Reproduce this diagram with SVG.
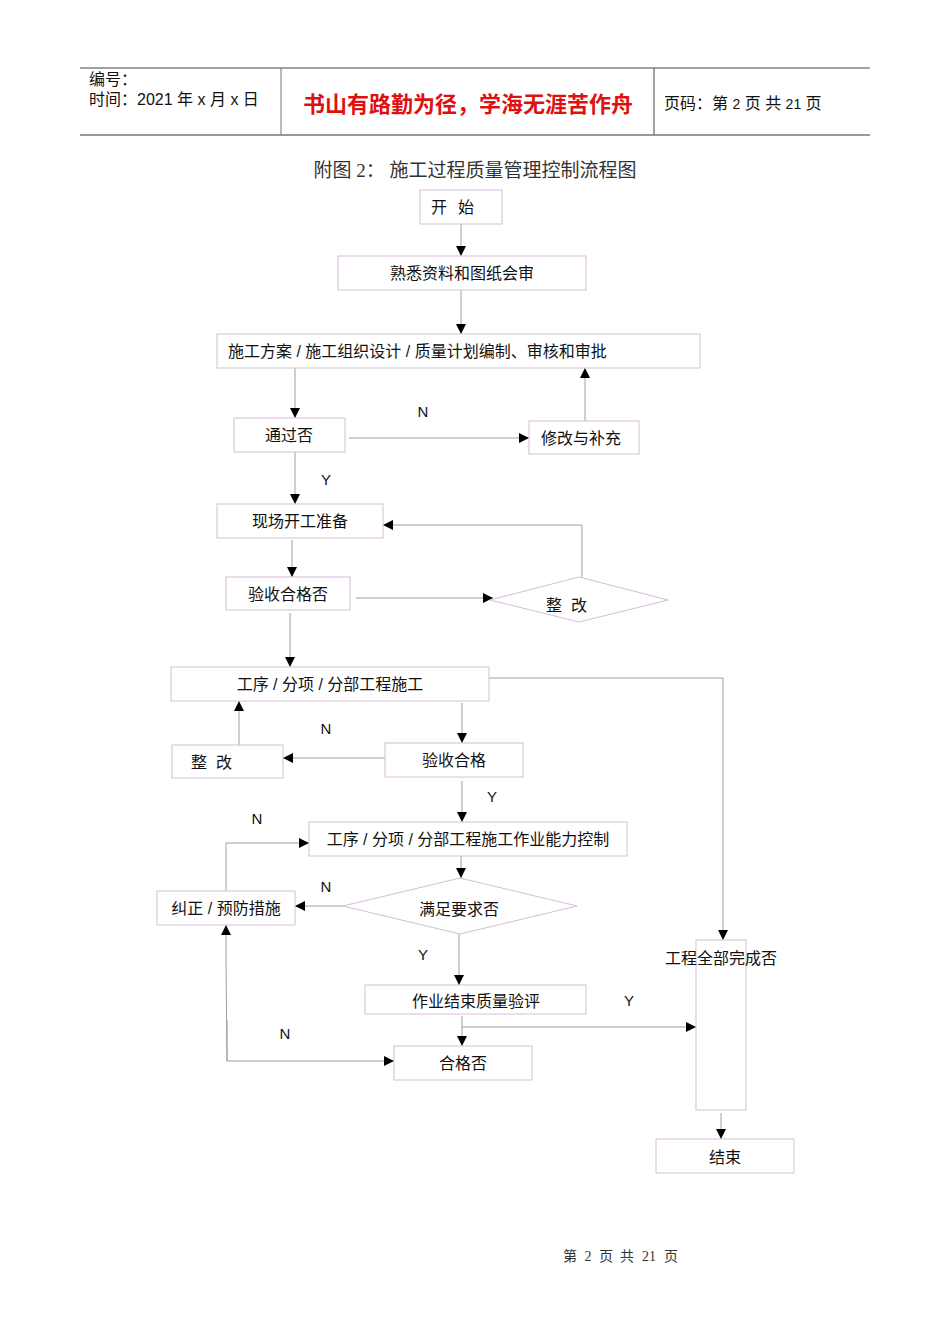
<svg xmlns="http://www.w3.org/2000/svg" width="950" height="1344" viewBox="0 0 950 1344">
<style>
.box{fill:#fff;stroke:#d8bcd8;stroke-width:1}
.t{font-family:"Liberation Sans","Noto Sans CJK SC",sans-serif;font-size:16px;fill:#111;text-anchor:middle;dominant-baseline:central}
.lbl{font-family:"Liberation Sans","Noto Sans CJK SC",sans-serif;font-size:15px;fill:#111;text-anchor:middle;dominant-baseline:central}
.ln{fill:none;stroke:#a0a0a0;stroke-width:1}
.hd{font-family:"Liberation Sans","Noto Sans CJK SC",sans-serif;font-size:16px;fill:#111}
.ft{font-family:"Liberation Serif","Noto Sans CJK SC",serif;font-size:14px;fill:#333;text-anchor:middle}
</style>
<defs>
<marker id="ah" viewBox="0 0 10 10" refX="10" refY="5" markerWidth="10" markerHeight="10" markerUnits="userSpaceOnUse" orient="auto">
<path d="M0,0 L10,5 L0,10 z" fill="#000"/>
</marker>
</defs>
<rect width="950" height="1344" fill="#fff"/>
<g id="header">
<line x1="80" y1="68" x2="870" y2="68" stroke="#444" stroke-width="1"/>
<line x1="80" y1="135" x2="870" y2="135" stroke="#777" stroke-width="1.5"/>
<line x1="281" y1="68" x2="281" y2="135" stroke="#777"/>
<line x1="654" y1="68" x2="654" y2="135" stroke="#444"/>
<text class="hd" x="89" y="85">编号：</text>
<text class="hd" x="89" y="105">时间：2021 年 x 月 x 日</text>
<text x="468" y="112" font-family="'Noto Sans CJK SC',sans-serif" font-size="22" font-weight="bold" fill="#e01010" text-anchor="middle">书山有路勤为径，学海无涯苦作舟</text>
<text class="hd" x="664" y="109">页码：第 <tspan font-size="14">2</tspan> 页  共 <tspan font-size="14">21</tspan> 页</text>
</g>
<text x="475" y="177" font-family="'Liberation Serif','Noto Sans CJK SC',serif" font-size="19" fill="#333" text-anchor="middle">附图 2：   施工过程质量管理控制流程图</text>
<g id="connectors">
<line class="ln" x1="461" y1="224" x2="461" y2="256" marker-end="url(#ah)"/>
<line class="ln" x1="461" y1="290" x2="461" y2="334" marker-end="url(#ah)"/>
<line class="ln" x1="295" y1="368" x2="295" y2="418" marker-end="url(#ah)"/>
<line class="ln" x1="349" y1="438" x2="529" y2="438" marker-end="url(#ah)"/>
<line class="ln" x1="585" y1="421" x2="585" y2="368" marker-end="url(#ah)"/>
<line class="ln" x1="295" y1="452" x2="295" y2="504" marker-end="url(#ah)"/>
<line class="ln" x1="292" y1="540" x2="292" y2="577" marker-end="url(#ah)"/>
<line class="ln" x1="356" y1="598" x2="493" y2="598" marker-end="url(#ah)"/>
<polyline class="ln" points="582,577 582,525 383,525" marker-end="url(#ah)"/>
<line class="ln" x1="290" y1="613" x2="290" y2="667" marker-end="url(#ah)"/>
<line class="ln" x1="462" y1="703" x2="462" y2="743" marker-end="url(#ah)"/>
<line class="ln" x1="385" y1="758" x2="283" y2="758" marker-end="url(#ah)"/>
<line class="ln" x1="239" y1="745" x2="239" y2="701" marker-end="url(#ah)"/>
<line class="ln" x1="462" y1="781" x2="462" y2="822" marker-end="url(#ah)"/>
<polyline class="ln" points="489,678 723,678 723,940" marker-end="url(#ah)"/>
<line class="ln" x1="461" y1="856" x2="461" y2="878" marker-end="url(#ah)"/>
<line class="ln" x1="343" y1="906" x2="295" y2="906" marker-end="url(#ah)"/>
<polyline class="ln" points="226,891 226,843 309,843" marker-end="url(#ah)"/>
<line class="ln" x1="459" y1="934" x2="459" y2="985" marker-end="url(#ah)"/>
<line class="ln" x1="462" y1="1016" x2="462" y2="1046" marker-end="url(#ah)"/>
<line class="ln" x1="462" y1="1027" x2="696" y2="1027" marker-end="url(#ah)"/>
<polyline class="ln" points="227,1061 226,960 226,925" marker-end="url(#ah)"/>
<polyline class="ln" points="227,1020 227,1061 394,1061" marker-end="url(#ah)"/>
<line class="ln" x1="721" y1="1113" x2="721" y2="1139" marker-end="url(#ah)"/>
<text class="lbl" x="423" y="411">N</text>
<text class="lbl" x="326" y="479">Y</text>
<text class="lbl" x="326" y="728">N</text>
<text class="lbl" x="492" y="796">Y</text>
<text class="lbl" x="257" y="818">N</text>
<text class="lbl" x="326" y="886">N</text>
<text class="lbl" x="423" y="954">Y</text>
<text class="lbl" x="629" y="1000">Y</text>
<text class="lbl" x="285" y="1033">N</text>
</g>
<g id="n-start"><rect class="box" x="420" y="190" width="82" height="34"/><text class="t" x="439" y="207">开</text><text class="t" x="466" y="207">始</text></g>
<g id="n-review"><rect class="box" x="338" y="256" width="248" height="34"/><text class="t" x="462" y="273">熟悉资料和图纸会审</text></g>
<g id="n-plan"><rect class="box" x="217" y="334" width="483" height="34"/><text class="t" x="228" y="351" style="text-anchor:start">施工方案 / 施工组织设计 / 质量计划编制、审核和审批</text></g>
<g id="n-pass"><rect class="box" x="234" y="418" width="111" height="34"/><text class="t" x="289" y="435">通过否</text></g>
<g id="n-modify"><rect class="box" x="529" y="421" width="110" height="33"/><text class="t" x="581" y="438">修改与补充</text></g>
<g id="n-prep"><rect class="box" x="217" y="504" width="166" height="34"/><text class="t" x="300" y="521">现场开工准备</text></g>
<g id="n-accept1"><rect class="box" x="226" y="577" width="124" height="33"/><text class="t" x="288" y="594">验收合格否</text></g>
<g id="n-fix1"><polygon class="box" points="490,600 579,577 668,600 579,622"/><text class="t" x="554" y="605">整</text><text class="t" x="579" y="605">改</text></g>
<g id="n-work"><rect class="box" x="171" y="667" width="318" height="34"/><text class="t" x="330" y="684">工序 / 分项 / 分部工程施工</text></g>
<g id="n-fix2"><rect class="box" x="172" y="745" width="111" height="33"/><text class="t" x="199" y="762">整</text><text class="t" x="224" y="762">改</text></g>
<g id="n-accept2"><rect class="box" x="385" y="743" width="138" height="34"/><text class="t" x="454" y="760">验收合格</text></g>
<g id="n-capability"><rect class="box" x="309" y="822" width="318" height="34"/><text class="t" x="468" y="839">工序 / 分项 / 分部工程施工作业能力控制</text></g>
<g id="n-correct"><rect class="box" x="157" y="891" width="138" height="34"/><text class="t" x="226" y="908">纠正 / 预防措施</text></g>
<g id="n-meet"><polygon class="box" points="343,906 460,878 577,906 460,934"/><text class="t" x="459" y="909">满足要求否</text></g>
<g id="n-eval"><rect class="box" x="365" y="985" width="221" height="29"/><text class="t" x="476" y="1001">作业结束质量验评</text></g>
<g id="n-qualified"><rect class="box" x="394" y="1046" width="138" height="34"/><text class="t" x="463" y="1063">合格否</text></g>
<g id="n-complete"><rect class="box" x="696" y="940" width="50" height="170" fill="none"/><text class="t" x="721" y="958">工程全部完成否</text></g>
<g id="n-end"><rect class="box" x="656" y="1139" width="138" height="34"/><text class="t" x="725" y="1157">结束</text></g>
<g id="footer">
<text class="ft" x="570" y="1261">第</text>
<text class="ft" x="588" y="1261">2</text>
<text class="ft" x="606" y="1261">页</text>
<text class="ft" x="627" y="1261">共</text>
<text class="ft" x="649" y="1261">21</text>
<text class="ft" x="671" y="1261">页</text>
</g>
</svg>
